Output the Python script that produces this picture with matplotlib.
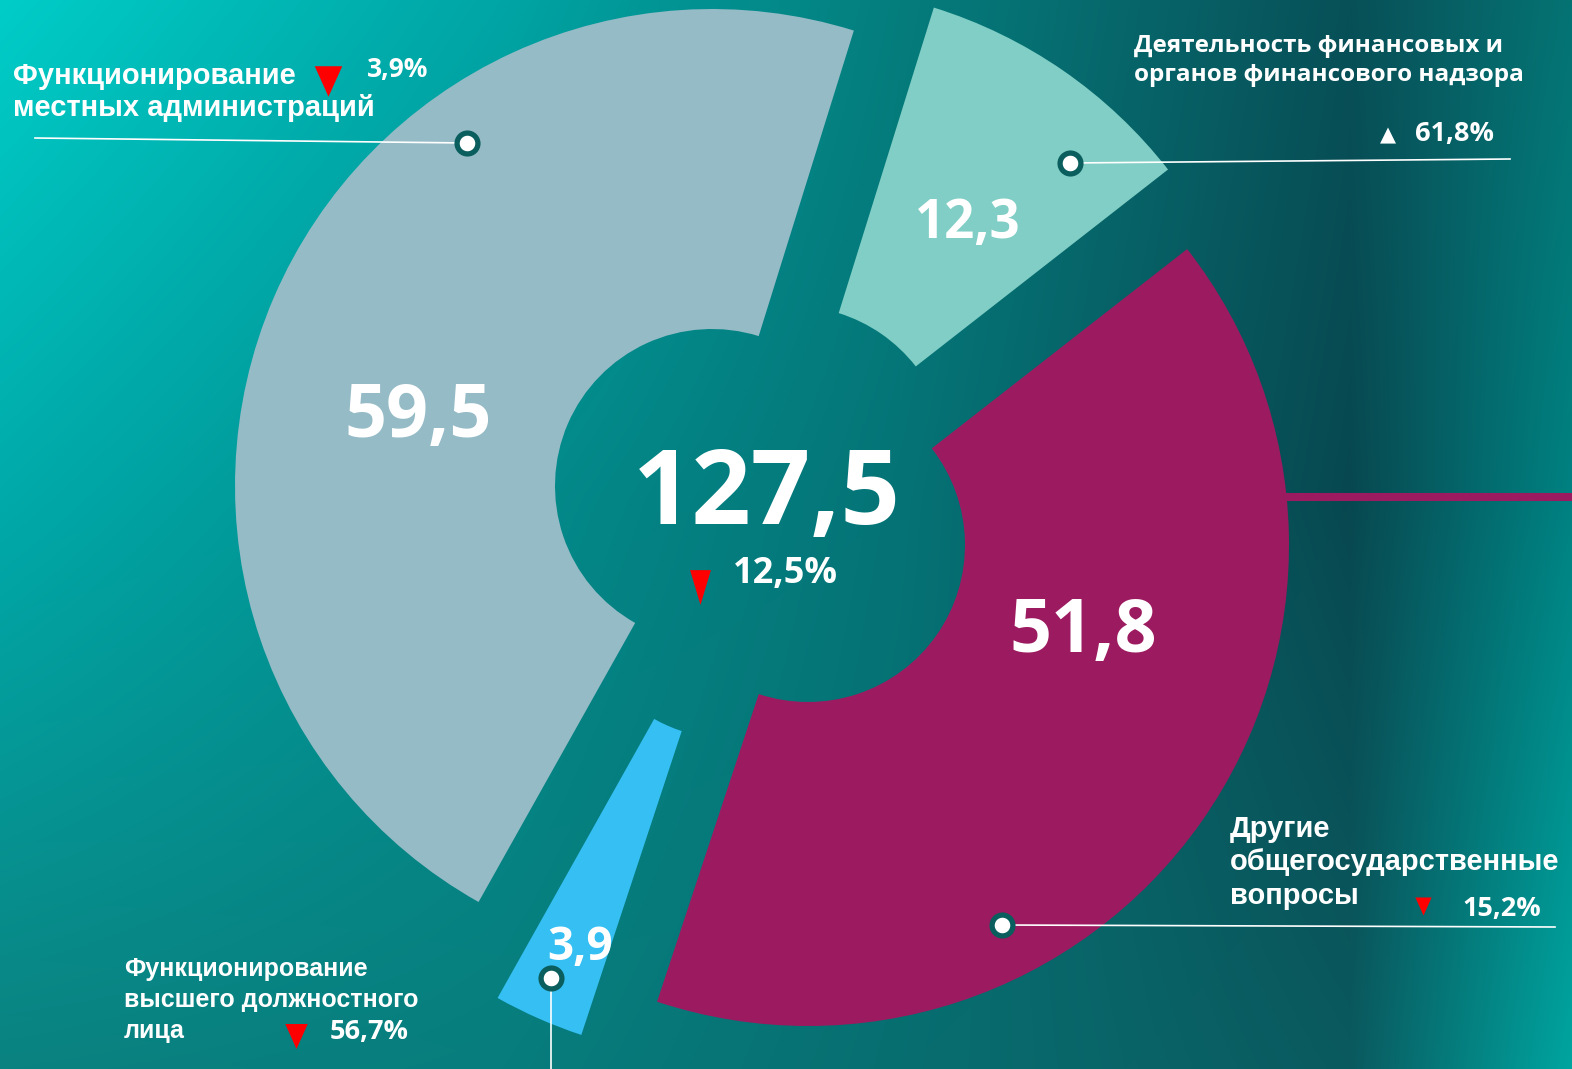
import numpy as np
import matplotlib
matplotlib.use("Agg")
import matplotlib.pyplot as plt
from matplotlib.path import Path

# --- данные ---
categories = ["Деятельность финансовых и\nорганов финансового надзора",
              "Другие\nобщегосударственные\nвопросы",
              "Функционирование\nвысшего должностного\nлица",
              "Функционирование\nместных администраций"]
values = [12.3, 51.8, 3.9, 59.5]
value_labels = ["12,3", "51,8", "3,9", "59,5"]
changes = ["61,8%", "15,2%", "56,7%", "3,9%"]
total_label = "127,5"
total_change = "12,5%"

colors = ["#80CEC5", "#9C1A5F", "#35BFF3", "#95BBC6"]

W, H = 1572, 1069
fig = plt.figure(figsize=(W / 100, H / 100), dpi=100)
ax = fig.add_axes([0, 0, 1, 1])

# фон: градиент
gx = np.array([0, 500, 900, 1350, 1572])
gy = np.array([0, 500, 1069])
gcol = np.array([
    [(0, 205, 200), (0, 165, 165), (5, 125, 125), (8, 80, 88), (5, 115, 115)],
    [(0, 170, 170), (3, 140, 140), (5, 115, 118), (8, 72, 80), (0, 130, 130)],
    [(10, 130, 128), (8, 125, 125), (8, 110, 112), (10, 90, 95), (0, 165, 160)],
], dtype=float) / 255
xx = np.arange(W)
yy = np.arange(H)
rows = np.stack([np.stack([np.interp(xx, gx, gcol[r, :, c]) for c in range(3)], -1)
                 for r in range(3)])
bg = np.stack([np.stack([np.interp(yy, gy, rows[:, i, c]) for c in range(3)], -1)
               for i in range(W)], 1)
ax.imshow(bg, extent=(0, W, -H, 0), aspect="auto", zorder=0, interpolation="bilinear")

# кольцевая диаграмма
R = 477
wedges, _ = ax.pie(values, colors=colors, startangle=72.7, counterclock=False,
                   radius=R, center=(760, -517),
                   wedgeprops=dict(width=R - 157, linewidth=0))
centers = [(792, -463), (808, -545), (731, -582), (712, -486)]
radii = [477, 481, 477, 477]
for w, c, r in zip(wedges, centers, radii):
    w.set_center(c)
    w.set_radius(r)
    w.set_width(r - 157)
    w.set_zorder(2)

ax.set_xlim(0, W)
ax.set_ylim(-H, 0)
ax.set_aspect("equal")
ax.axis("off")

# линия справа
ax.plot([1284, W], [-497, -497], color="#9C1A5F", lw=5.8, zorder=1, solid_capstyle="butt")

vfont = "Open Sans"
lfont = "Liberation Sans"
white = "white"

# подписи значений
value_pos = [(968, -224), (1083, -633), (580, -947), (418, -418)]
value_size = [38, 53, 33, 53]
for lab, (x, y), s in zip(value_labels, value_pos, value_size):
    ax.text(x, y, lab, family=vfont, weight="bold", size=s, color=white,
            ha="center", va="center", zorder=5)

ax.text(767, -497, total_label, family=vfont, weight="bold", size=75,
        color=white, ha="center", va="center", zorder=5)
ax.text(733, -574, total_change, family=vfont, weight="bold", size=26,
        color=white, ha="left", va="center", zorder=5)

# треугольники
narrow = Path([(-0.6, 1), (0.6, 1), (0, -1), (-0.6, 1)])
wide = Path([(-0.9, 1), (0.9, 1), (0, -1), (-0.9, 1)])
def down(x, y, ms, shape):
    ax.plot([x], [y], marker=shape, ms=ms, color="#FF0000", mew=0, zorder=6)

# маркеры-кружки и линии выносок
lines = [([1070, 1510], [-163, -159]), ([1002, 1555], [-925, -927]),
         ([551, 551], [-978, -H]), ([35, 467], [-138, -143])]
dots = [(1070, -163), (1002, -925), (551, -978), (467, -143)]
for (lx, ly), (dx, dy) in zip(lines, dots):
    ax.plot(lx, ly, color=white, lw=1.2, zorder=4)
    ax.plot([dx], [dy], marker="o", ms=15, mfc=white, mec="#0B5E5E", mew=3.8, zorder=7)

# текстовые подписи категорий (построчно)
def label(text, x, y0, step, font, size):
    for i, line in enumerate(text.split("\n")):
        ax.text(x, y0 - i * step, line, family=font, weight="bold", size=size,
                color=white, ha="left", va="baseline", zorder=5)

label(categories[0], 1134, -52, 29, vfont, 17.5)
ax.text(1380, -135, "▲", family="DejaVu Sans", size=15, color=white,
        ha="left", va="center", zorder=5)
ax.text(1415, -134, changes[0], family=vfont, weight="bold", size=19.5,
        color=white, ha="left", va="center", zorder=5)

label(categories[1], 1230, -837, 33.5, lfont, 21)
down(1423, -906, 13, wide)
ax.text(1462, -909, changes[1], family=vfont, weight="bold", size=19.5,
        color=white, ha="left", va="center", zorder=5)

label(categories[2], 124, -976, 31, lfont, 18)
down(296, -1036, 18, wide)
ax.text(330, -1032, changes[2], family=vfont, weight="bold", size=19.5,
        color=white, ha="left", va="center", zorder=5)

label(categories[3], 13, -84, 32, lfont, 21)
down(328, -81, 22, wide)
ax.text(367, -69, changes[3], family=vfont, weight="bold", size=19,
        color=white, ha="left", va="center", zorder=5)

down(700, -587, 25, narrow)

fig.savefig("out.png", dpi=100)
